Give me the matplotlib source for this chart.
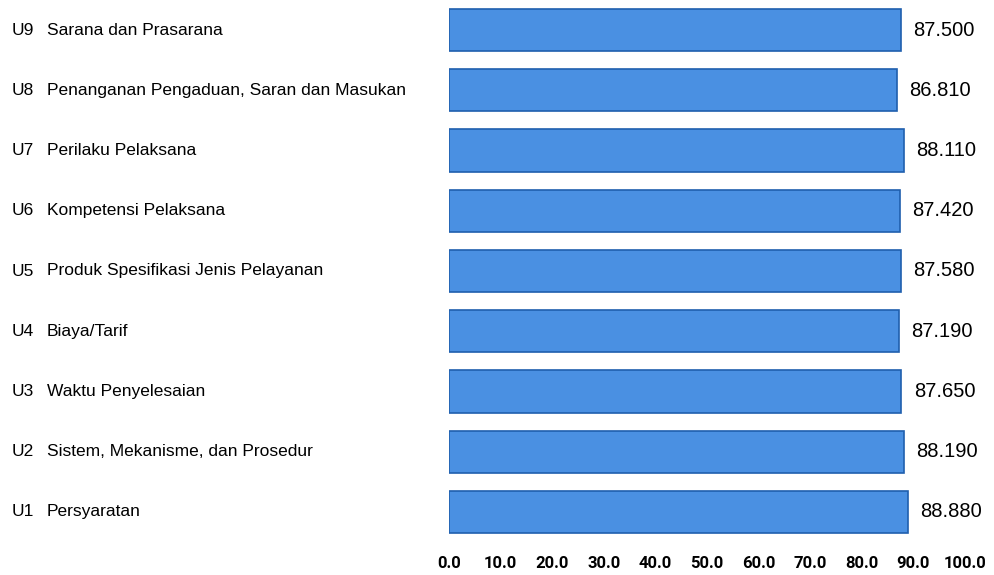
#!/usr/bin/env python3
import matplotlib
matplotlib.use('Agg')
import matplotlib.pyplot as plt

codes = ['U1', 'U2', 'U3', 'U4', 'U5', 'U6', 'U7', 'U8', 'U9']
names = ['Persyaratan',
         'Sistem, Mekanisme, dan Prosedur',
         'Waktu Penyelesaian',
         'Biaya/Tarif',
         'Produk Spesifikasi Jenis Pelayanan',
         'Kompetensi Pelaksana',
         'Perilaku Pelaksana',
         'Penanganan Pengaduan, Saran dan Masukan',
         'Sarana dan Prasarana']
values = [88.88, 88.19, 87.65, 87.19, 87.58, 87.42, 88.11, 86.81, 87.50]
xticks = [0, 10, 20, 30, 40, 50, 60, 70, 80, 90, 100]

plt.rcParams['font.family'] = ['Liberation Sans', 'DejaVu Sans']

fig = plt.figure(figsize=(9.94, 5.75), dpi=100)
ax = fig.add_axes((449/994, 33/575, 516/994, 542/575))

ypos = list(range(len(values)))
ax.barh(ypos, values, height=0.7, color='#4a90e2', edgecolor='#1f5fae', linewidth=1.2)

ax.set_xlim(0, 100)
ax.set_ylim(-0.5, len(values) - 0.5)
ax.set_xticks(xticks)
ax.set_xticklabels([f'{t:.1f}' for t in xticks], fontsize=12, fontweight='bold',
                   family=['Roboto', 'DejaVu Sans'])
ax.tick_params(axis='x', length=0, pad=10)
ax.set_yticks([])
for s in ax.spines.values():
    s.set_visible(False)

# value labels at bar ends
for y, v in zip(ypos, values):
    ax.annotate(f'{v:.3f}', (v, y), xytext=(9, 0), textcoords='offset points',
                va='center', ha='left', fontsize=14.5)

# category labels: code column + name column (x given in pixels -> points)
for y, c, n in zip(ypos, codes, names):
    ax.annotate(c, (0, y), xycoords=('figure pixels', 'data'), xytext=(12*0.72, 0),
                textcoords='offset points', va='center', ha='left', fontsize=12.5)
    ax.annotate(n, (0, y), xycoords=('figure pixels', 'data'), xytext=(47*0.72, 0),
                textcoords='offset points', va='center', ha='left', fontsize=12.5)

fig.savefig('out.png', dpi=100)
